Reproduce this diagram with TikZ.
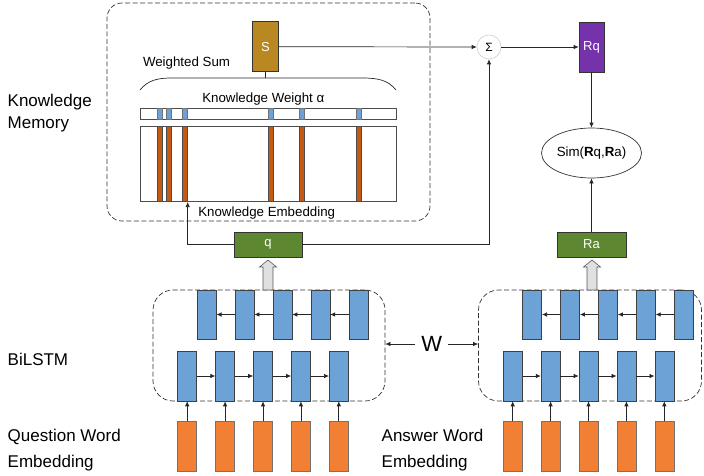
\documentclass[tikz,border=0pt]{standalone}
\usepackage{fontspec}
\setmainfont{Liberation Sans}
\usetikzlibrary{arrows.meta,shapes.geometric,calc}

\definecolor{cellblue}{RGB}{108,162,214}
\definecolor{emborange}{RGB}{242,128,52}
\definecolor{barorange}{RGB}{197,90,20}
\definecolor{vecgreen}{RGB}{94,135,49}
\definecolor{sumgold}{RGB}{186,136,34}
\definecolor{repurple}{RGB}{118,50,170}

\newcommand\setfsz[1]{\fontsize{#1}{#1}\selectfont}

\tikzset{
  conn/.style={draw=black!85, line width=0.7pt},
  tip/.style={-{Latex[length=5pt,width=4.5pt]}},
  grp/.style={draw=black!80, dash pattern=on 5pt off 2.5pt, line width=0.7pt,
    rounded corners=#1, inner sep=0},
  cellU/.style={draw=black!75, fill=cellblue, minimum width=19pt,
    minimum height=49pt, inner sep=0, line width=0.6pt},
  cellL/.style={cellU, minimum height=50pt},
  cellO/.style={draw=black!55, fill=emborange, minimum width=19pt,
    minimum height=50pt, inner sep=0, line width=0.6pt},
  vec/.style={draw=black!80, inner sep=0, text=white, font=\setfsz{13},
    line width=0.6pt},
  lbl/.style={inner sep=0, anchor=base west, font=\setfsz{17}},
  ilbl/.style={inner sep=0, anchor=base, font=\setfsz{13.3}},
  hollow/.style={draw=black!65, fill=black!12, line width=0.6pt},
  plain/.style={draw=black!70, inner sep=0, line width=0.6pt}
}

\begin{document}
\begin{tikzpicture}[x=1pt,y=-1pt]
\useasboundingbox (0,0) rectangle (704,475);

% side labels
\node[lbl] (kmA) at (7.5,106.7) {Knowledge};
\node[lbl] (kmB) at (7.5,128.3) {Memory};
\node[lbl] (bil) at (7.5,365) {BiLSTM};
\node[lbl] (qwA) at (7.5,441.7) {Question Word};
\node[lbl] (qwB) at (7.5,467.3) {Embedding};
\node[lbl] (awA) at (381.5,441.7) {Answer Word};
\node[lbl] (awB) at (381.5,467.3) {Embedding};

% knowledge memory group
\node[grp=15, minimum width=323pt, minimum height=218pt] (mem) at (268.5,112) {};
\node[ilbl] (wsum) at (186.5,66.7) {Weighted Sum};
\node[ilbl] (kwl) at (263.3,102.7) {Knowledge Weight α};
\node[ilbl] (kel) at (266.7,216.7) {Knowledge Embedding};

\node[plain, minimum width=256pt, minimum height=11pt] (wbar) at (268,113.8) {};
\node[plain, minimum width=256pt, minimum height=75pt] (emb) at (268,164.2) {};
\foreach \x in {157.3,166,182.7,268.3,299.3,356} {
  \draw[fill=cellblue, draw=black!55, line width=0.5pt] (\x,108.3) rectangle ++(5,11);
  \draw[fill=barorange, draw=black!70, line width=0.5pt] (\x,126.7) rectangle ++(5,75);
}

% weighted-sum bracket
\coordinate (brtop) at (265.5,78);
\draw[conn] (140,90) .. controls (148,80) and (158,78) .. (172,78) -- (362,78)
  .. controls (378,78) and (388,80) .. (396,90);

% vectors
\node[vec, fill=sumgold, minimum width=25.6pt, minimum height=50pt] (s) at (265.5,46.7) {S};
\node[vec, fill=repurple, minimum width=25pt, minimum height=50pt] (rq) at (591.5,47) {Rq};
\node[vec, fill=vecgreen, minimum width=68pt, minimum height=25pt] (q) at (268,244.5) {q};
\node[vec, fill=vecgreen, minimum width=69pt, minimum height=25pt] (ra) at (591.5,244.5) {Ra};
\node[circle, draw=black!20, line width=0.6pt, minimum size=24pt, inner sep=0,
  font=\setfsz{12}] (sig) at (489,47) {Σ};
\node[ellipse, draw=black!80, line width=0.7pt, minimum width=100pt,
  minimum height=50pt, inner sep=0, font=\setfsz{13.3}] (sim) at (591.5,153)
  {Sim(\textbf{R}q,\textbf{R}a)};

\draw[conn] (s.south) -- (brtop);
\draw[conn,tip] (s.east) -- (sig.west);
\draw[conn,tip] (sig.east) -- (rq.west);
\draw[conn,tip] (rq.south) -- (sim.north);
\draw[conn,tip] (ra.north) -- (sim.south);
\draw[conn,tip] (q.east) -| (sig.south);
\draw[conn,tip] (q.west) -| ([xshift=48pt]emb.south west);

% BiLSTM groups
\node[grp=20, minimum width=232pt, minimum height=111pt] (lbox) at (269,345.5) {};
\node[grp=20, minimum width=223pt, minimum height=111pt] (rbox) at (590,345.5) {};

\node[inner sep=0, font=\setfsz{22}] (w) at (431.7,344) {W};
\draw[conn,tip] ([xshift=-6pt]w.west) -- (w.west -| lbox.east);
\draw[conn,tip] ([xshift=6pt]w.east) -- (w.east -| rbox.west);

% cells
\foreach \i in {0,...,4} {
  \node[cellU] (qu\i) at ({206.7+37.9*\i},314.5) {};
  \node[cellL] (ql\i) at ({187.2+37.9*\i},376) {};
  \node[cellO] (qe\i) at ({187.2+37.9*\i},446.7) {};
  \node[cellU] (au\i) at ({532.2+37.9*\i},314.5) {};
  \node[cellL] (al\i) at ({512.7+37.9*\i},376) {};
  \node[cellO] (ae\i) at ({512.7+37.9*\i},446.7) {};
  \draw[conn,tip] (qe\i.north) -- (ql\i.south);
  \draw[conn,tip] (ae\i.north) -- (al\i.south);
}
\foreach \i in {0,...,3} {
  \pgfmathtruncatemacro\j{\i+1}
  \draw[conn,tip] (ql\i.east) -- (ql\j.west);
  \draw[conn,tip] (al\i.east) -- (al\j.west);
  \draw[conn,tip] (qu\j.west) -- (qu\i.east);
  \draw[conn,tip] (au\j.west) -- (au\i.east);
}

% outputs to q and Ra
\foreach \cx in {268,592} {
  \draw[hollow] ({\cx-5},290) -- ({\cx-5},267) -- ({\cx-8.5},267) -- (\cx,260)
    -- ({\cx+8.5},267) -- ({\cx+5},267) -- ({\cx+5},290) -- cycle;
}
\end{tikzpicture}
\end{document}
